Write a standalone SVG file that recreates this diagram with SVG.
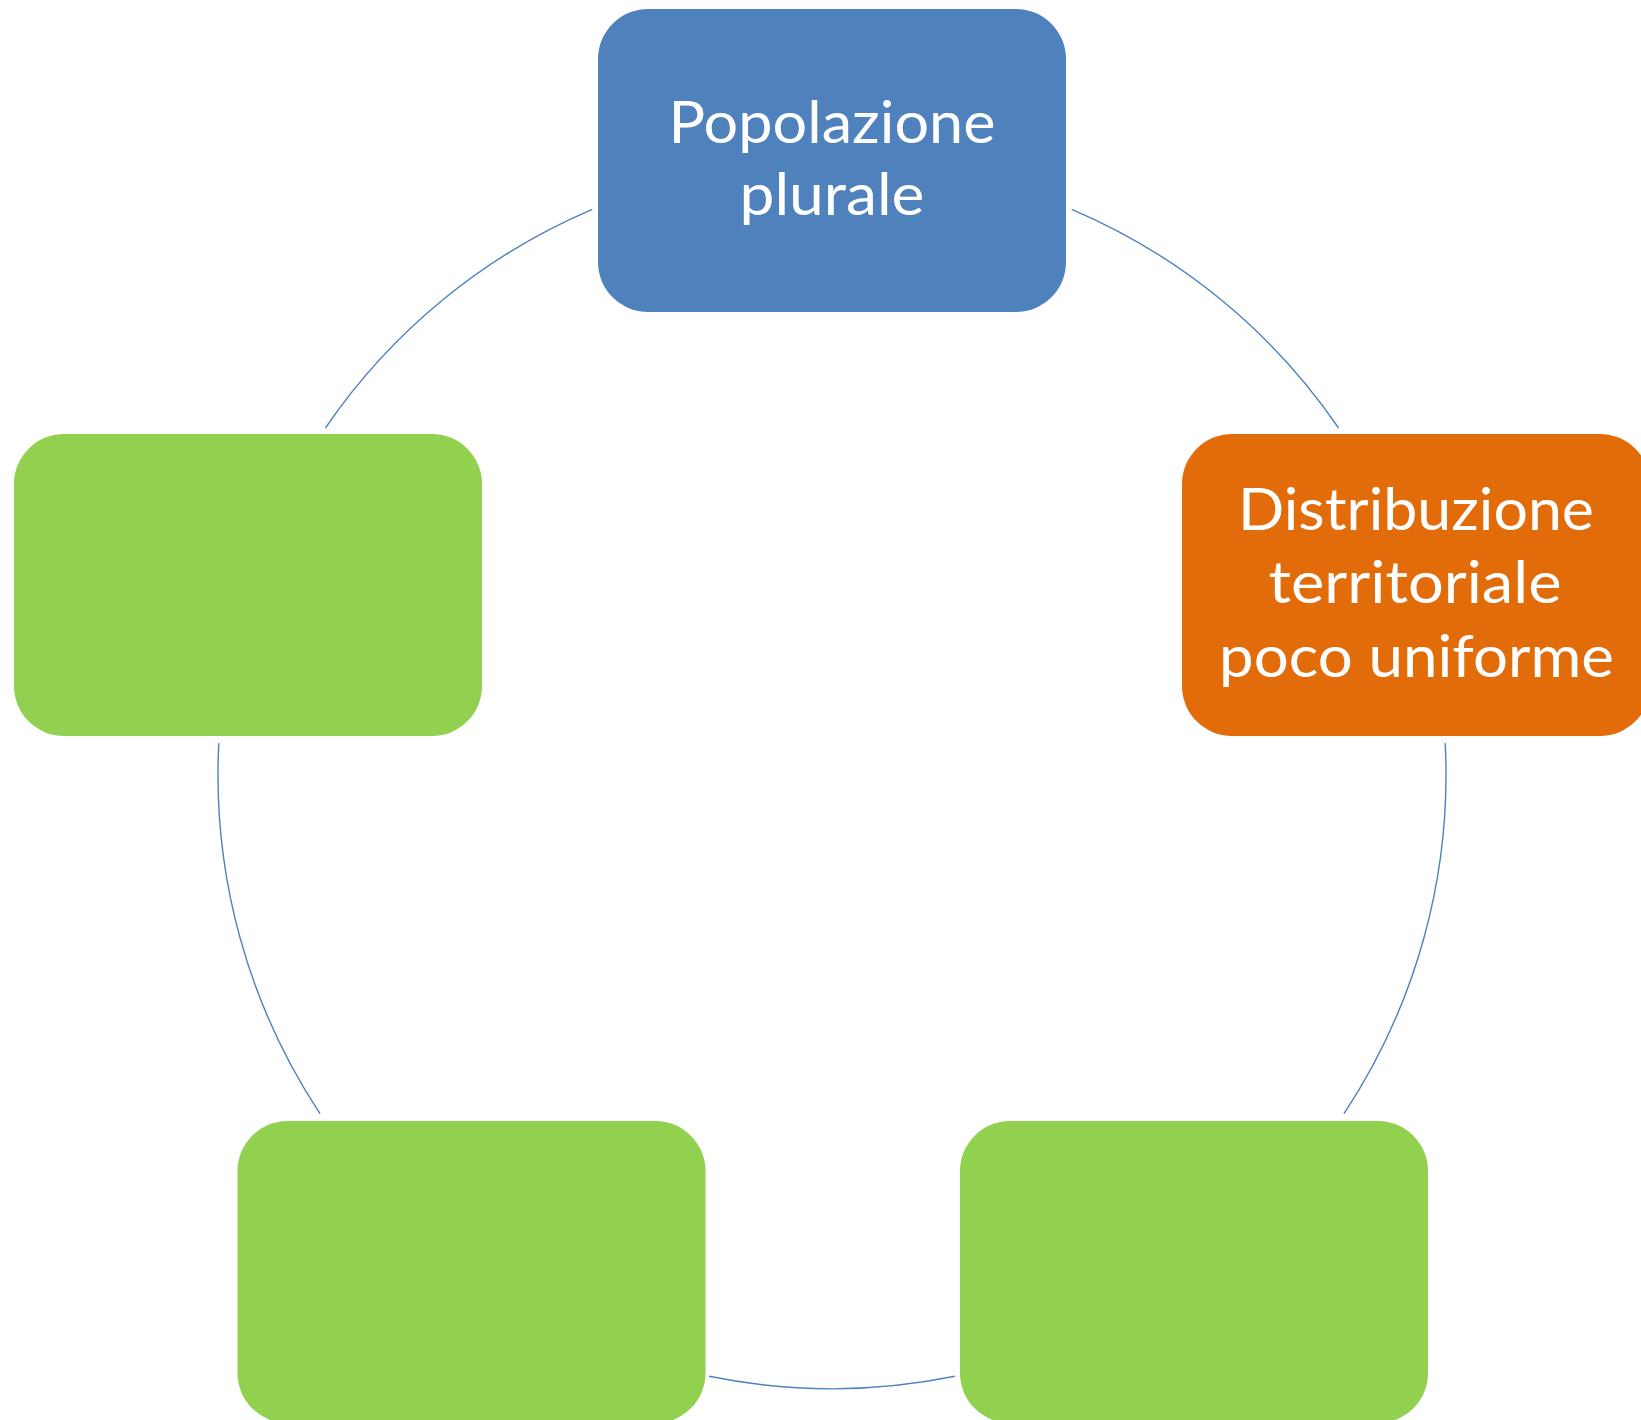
<svg xmlns="http://www.w3.org/2000/svg" width="1641" height="1420" viewBox="0 0 1641 1420">
<style>
.node{stroke:none}
.blue{fill:#4F81BD}
.orange{fill:#E36C0A}
.green{fill:#92D050}
.lbl{font-family:Lato,"Open Sans","Liberation Sans",sans-serif;font-size:59px;fill:#FFFFFF;text-anchor:middle}
.conn{fill:none;stroke:#4F81BD;stroke-width:1.4}
</style>
<rect width="1641" height="1420" fill="#FFFFFF"/>
<g id="connectors">
<path class="conn" d="M1071.7,209.3 A614,614 0 0 1 1338.6,428"/>
<path class="conn" d="M1445.2,743.1 A614,614 0 0 1 1344,1113.6"/>
<path class="conn" d="M954.8,1376.3 A614,614 0 0 1 709.2,1376.3"/>
<path class="conn" d="M320,1113.6 A614,614 0 0 1 218.8,743.1"/>
<path class="conn" d="M325.4,428 A614,614 0 0 1 592.3,209.3"/>
</g>
<g id="node-popolazione">
<rect class="node blue" x="598" y="9" width="468" height="303" rx="50" ry="50"/>
<text class="lbl" x="832" y="143" textLength="327" lengthAdjust="spacingAndGlyphs">Popolazione</text>
<text class="lbl" x="832" y="215" textLength="185" lengthAdjust="spacingAndGlyphs">plurale</text>
</g>
<g id="node-distribuzione">
<rect class="node orange" x="1182" y="434" width="468" height="302" rx="50" ry="50"/>
<text class="lbl" x="1416" y="530" textLength="356" lengthAdjust="spacingAndGlyphs">Distribuzione</text>
<text class="lbl" x="1415" y="603" textLength="293" lengthAdjust="spacingAndGlyphs">territoriale</text>
<text class="lbl" x="1416.5" y="677" textLength="395" lengthAdjust="spacingAndGlyphs">poco uniforme</text>
</g>
<g id="node-bottom-right">
<rect class="node green" x="960" y="1121" width="468" height="302" rx="50" ry="50"/>
</g>
<g id="node-bottom-left">
<rect class="node green" x="237.5" y="1121" width="468" height="302" rx="50" ry="50"/>
</g>
<g id="node-left">
<rect class="node green" x="14" y="434" width="468" height="302" rx="50" ry="50"/>
</g>
</svg>
